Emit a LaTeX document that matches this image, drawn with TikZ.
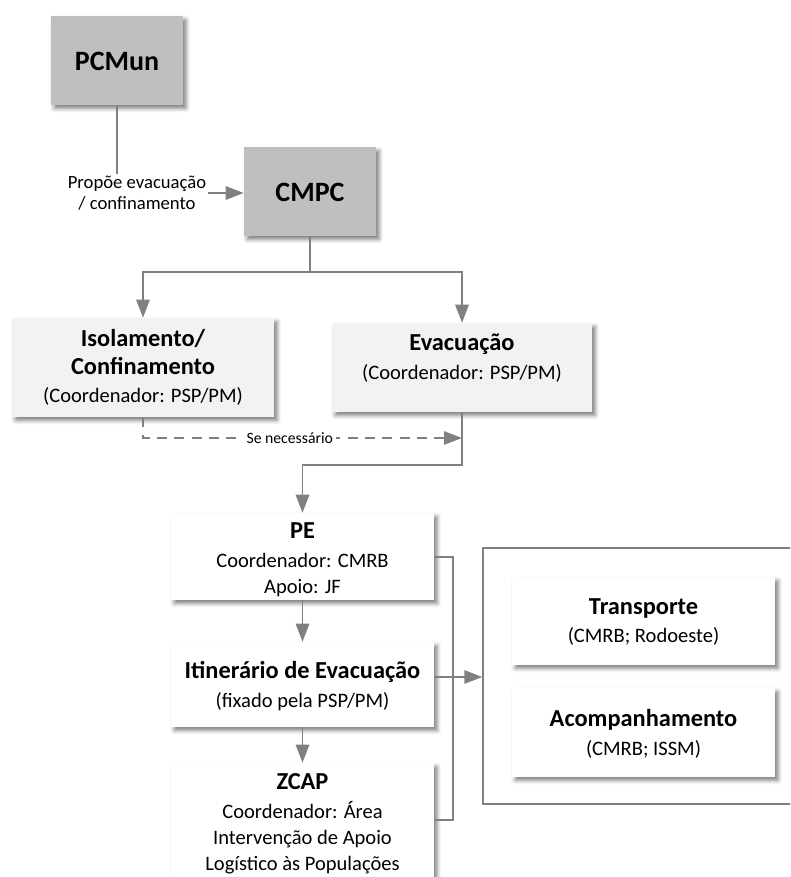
\documentclass[tikz,border=0pt]{standalone}
\usepackage{fontspec}
\setmainfont{Carlito}
\usetikzlibrary{arrows.meta,shadows.blur}

\definecolor{linegray}{HTML}{808080}
\definecolor{darkbox}{HTML}{BFBFBF}
\definecolor{lightbox}{HTML}{F2F2F2}

% one drawing unit is 0.75pt; box sizes are given in the same unit
\tikzset{
  box/.style 2 args={draw=none, minimum width=#1*0.75pt, minimum height=#2*0.75pt,
    inner sep=0pt,
    blur shadow={shadow xshift=2.4pt, shadow yshift=-2.6pt,
      shadow blur radius=3pt, shadow opacity=50}},
  bodytxt/.style={align=center, inner sep=0pt, text=black,
    font=\fontsize{15.4}{19.5}\selectfont},
  conn/.style={draw=linegray, line width=1.4pt},
  arr/.style={conn, -{Triangle[length=13.5pt,width=10pt]}},
  dashconn/.style={arr, dash pattern=on 7.5pt off 5.5pt},
}
\newcommand{\hd}[1]{{\bfseries\fontsize{18.3}{21}\selectfont #1}}

\begin{document}
\begin{tikzpicture}[x=0.75pt,y=-0.75pt]
  \useasboundingbox (0,0) rectangle (790,877);
  \clip (0,0) rectangle (790,877);

  % command posts
  \node[box={132}{89}, fill=darkbox] (pcmun) at (117,60.5) {};
  \node[font=\bfseries\fontsize{21}{24}\selectfont] (pcmun-t) at (117,61) {PCMun};
  \node[box={132}{89}, fill=darkbox] (cmpc) at (310,191.5) {};
  \node[font=\bfseries\fontsize{21}{24}\selectfont] (cmpc-t) at (310,192) {CMPC};

  % proposal label between the two posts
  \node[align=center, inner sep=1.5pt, font=\fontsize{14}{15.5}\selectfont]
    (prop) at (137,193) {Propõe evacuação\\/ confinamento};

  % second level
  \node[box={262}{99}, fill=lightbox] (iso) at (143,367.5) {};
  \node[bodytxt] (iso-t) at (143,367) {\hd{Isolamento/}\\[1.5pt]\hd{Confinamento}\\[1.5pt](Coordenador: PSP/PM)};
  \node[box={260}{89}, fill=lightbox] (evac) at (462,367.5) {};
  \node[bodytxt] (evac-t) at (462,358) {\hd{Evacuação}\\[2pt](Coordenador: PSP/PM)};

  % evacuation chain
  \node[box={263}{87}, fill=white] (pe) at (302.5,556.5) {};
  \node[bodytxt] (pe-t) at (302.5,560) {\hd{PE}\\[2pt]Coordenador: CMRB\\Apoio: JF};
  \node[box={263}{85}, fill=white] (itin) at (302.5,684.5) {};
  \node[bodytxt] (itin-t) at (302.5,686) {\hd{Itinerário de Evacuação}\\[2pt](fixado pela PSP/PM)};
  \node[box={263}{150}, fill=white] (zcap) at (302.5,838) {};
  \node[bodytxt] (zcap-t) at (302.5,824) {\hd{ZCAP}\\[2pt]Coordenador: Área\\Intervenção de Apoio\\Logístico às Populações};

  % support group
  \node[draw=linegray, line width=1pt, minimum width=330*0.75pt, minimum height=256*0.75pt,
        inner sep=0pt] (grp) at (648,676) {};
  \node[box={263}{88}, fill=white] (transp) at (643.5,621) {};
  \node[bodytxt] (transp-t) at (643.5,622) {\hd{Transporte}\\[2pt](CMRB; Rodoeste)};
  \node[box={263}{89}, fill=white] (acomp) at (643.5,732.5) {};
  \node[bodytxt] (acomp-t) at (643.5,734) {\hd{Acompanhamento}\\[2pt](CMRB; ISSM)};

  % connectors
  \draw[conn] (pcmun.south) -- (pcmun.south |- prop.north);
  \draw[arr] (prop.east) -- (cmpc.west |- prop.east);

  \coordinate (split) at (310,272);
  \draw[conn] (cmpc.south) -- (split);
  \draw[arr] (split) -| (iso.north);
  \draw[arr] (split) -| (evac.north);

  \coordinate (join) at (462,438);
  \draw[dashconn] (iso.south) |- (join)
    node[pos=0.73, fill=white, inner xsep=2pt, inner ysep=1pt,
         font=\fontsize{11.8}{13}\selectfont] (se) {Se necessário};

  \coordinate (turn) at (462,465);
  \draw[arr] (evac.south) -- (turn) -| (pe.north);
  \draw[arr] (pe.south) -- (itin.north);
  \draw[arr] (itin.south) -- (itin.south |- zcap.north);

  % bracket gathering the chain towards the support group
  \coordinate (brk) at (453,677);
  \draw[conn] (pe.east |- 0,557) -| (453,820) -- (zcap.east |- 0,820);
  \draw[conn] (itin.east |- brk) -- (brk);
  \draw[arr] (brk) -- (grp.west |- brk);
\end{tikzpicture}
\end{document}
